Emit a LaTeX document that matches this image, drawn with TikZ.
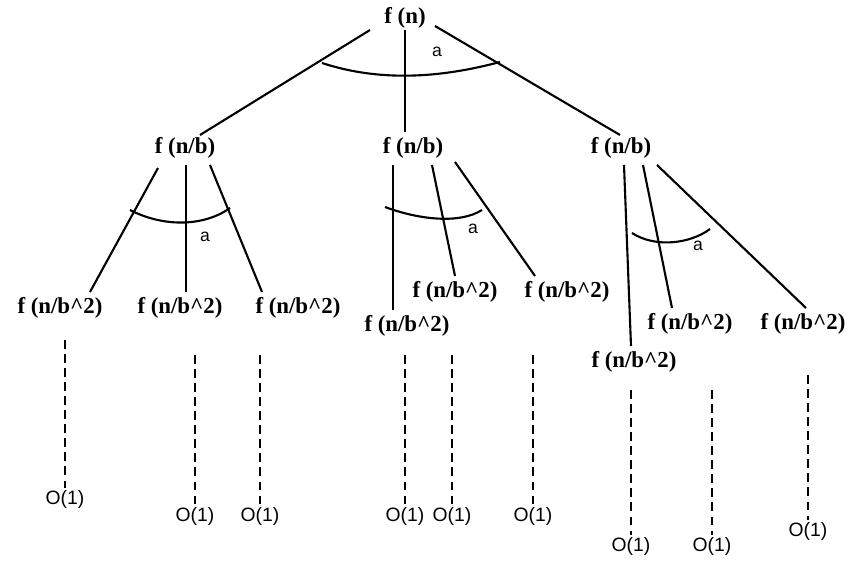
\documentclass[tikz,border=0pt]{standalone}
\usepackage{fontspec}
\setmainfont{Liberation Serif}
\setsansfont{Liberation Sans}
\begin{document}
\begin{tikzpicture}[x = 0.02cm, y = -0.02cm, line width = 1.2pt,
                        term/.style = {inner sep = 1pt, font = \fontsize{13}{15}\selectfont\bfseries},
                        leaf/.style = {inner sep = 1pt, font = \sffamily\fontsize{11}{13}\selectfont},
                        count/.style = {inner sep = 1pt, font = \sffamily\fontsize{10}{12}\selectfont},
                        dots/.style = {dashed, dash pattern = on 5pt off 3pt}]
      \useasboundingbox (0, 0) rectangle (859, 567);
      % root and first level
      \node [term] (r) at (405, 18) {f (n)};
      \node [term] (a1) at (185, 148) {f (n/b)};
      \node [term] (a2) at (413, 148) {f (n/b)};
      \node [term] (a3) at (621, 148) {f (n/b)};
      \node [count] (ka) at (437, 52) {a};
      \coordinate (r1) at (370, 30); \coordinate (r2) at (405, 30); \coordinate (r3) at (435, 26);
      \coordinate (e1) at (200, 135); \coordinate (e2) at (405, 132); \coordinate (e3) at (620, 135);
      \draw (r1) -- (e1); \draw (r2) -- (e2); \draw (r3) -- (e3);
      \coordinate (k1) at (322, 63); \coordinate (k2) at (500, 62);
      \draw (k1) .. controls (380, 82) and (440, 78) .. (k2);
      % second level, left
      \node [term] (b1) at (60, 308) {f (n/b\^{}2)};
      \node [term] (b2) at (180, 308) {f (n/b\^{}2)};
      \node [term] (b3) at (298, 308) {f (n/b\^{}2)};
      \node [count] (kb) at (205, 237) {a};
      \coordinate (p1) at (158, 168); \coordinate (p2) at (186, 165); \coordinate (p3) at (210, 165);
      \coordinate (q1) at (90, 292); \coordinate (q2) at (186, 292); \coordinate (q3) at (262, 292);
      \draw (p1) -- (q1); \draw (p2) -- (q2); \draw (p3) -- (q3);
      \coordinate (m1) at (130, 210); \coordinate (m2) at (230, 208);
      \draw (m1) .. controls (165, 228) and (205, 226) .. (m2);
      % second level, middle
      \node [term] (c1) at (407, 326) {f (n/b\^{}2)};
      \node [term] (c2) at (455, 292) {f (n/b\^{}2)};
      \node [term] (c3) at (567, 292) {f (n/b\^{}2)};
      \node [count] (kc) at (473, 229) {a};
      \coordinate (s1) at (393, 165); \coordinate (s2) at (432, 165); \coordinate (s3) at (455, 162);
      \coordinate (t1) at (393, 310); \coordinate (t2) at (455, 276); \coordinate (t3) at (535, 276);
      \draw (s1) -- (t1); \draw (s2) -- (t2); \draw (s3) -- (t3);
      \coordinate (n1) at (385, 207); \coordinate (n2) at (482, 210);
      \draw (n1) .. controls (420, 220) and (460, 224) .. (n2);
      % second level, right
      \node [term] (d1) at (634, 362) {f (n/b\^{}2)};
      \node [term] (d2) at (690, 324) {f (n/b\^{}2)};
      \node [term] (d3) at (803, 324) {f (n/b\^{}2)};
      \node [count] (kd) at (698, 246) {a};
      \coordinate (u1) at (624, 165); \coordinate (u2) at (643, 165); \coordinate (u3) at (657, 165);
      \coordinate (v1) at (631, 346); \coordinate (v2) at (672, 308); \coordinate (v3) at (806, 308);
      \draw (u1) -- (v1); \draw (u2) -- (v2); \draw (u3) -- (v3);
      \coordinate (o1) at (632, 233); \coordinate (o2) at (710, 229);
      \draw (o1) .. controls (655, 248) and (690, 244) .. (o2);
      % leaves
      \foreach \x/\ya/\yb/\name in {65/340/488/l1, 195/355/505/l2, 260/355/505/l3,
                                    405/355/505/l4, 452/355/505/l5, 533/355/505/l6,
                                    631/390/535/l7, 712/390/535/l8, 808/375/520/l9} {
        \coordinate (\name t) at (\x, \ya);
        \node [leaf, anchor = north] (\name) at (\x, \yb) {O(1)};
        \draw [dots] (\name t) -- (\name.north);
      }
    \end{tikzpicture}
\end{document}
